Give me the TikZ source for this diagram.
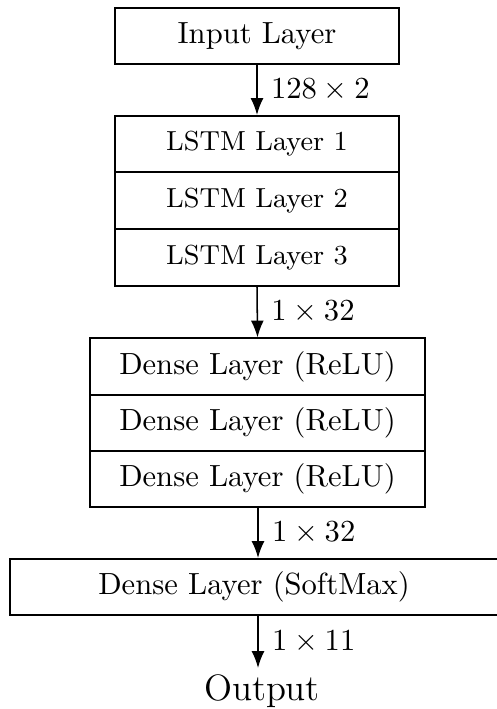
\documentclass[tikz,border=0pt]{standalone}
\usetikzlibrary{arrows.meta,calc}
\begin{document}
\begin{tikzpicture}[x=0.3268pt,y=-0.3268pt,
  layerbox/.style={draw, line width=0.5pt, inner sep=0pt, minimum width={#1*0.3268pt}, minimum height={56.5*0.3268pt}},
  flow/.style={-{Latex[length=5.5pt,width=4.2pt]}, line width=0.5pt},
  dimlabel/.style={right, xshift=1pt}]
\useasboundingbox (0,0) rectangle (496,709);
\node[layerbox=284] (in) at (257,36) {Input Layer};
\node[layerbox=284, font=\small] (l1) at (257,144) {LSTM Layer 1};
\node[layerbox=284, font=\small] (l2) at (257,200.5) {LSTM Layer 2};
\node[layerbox=284, font=\small] (l3) at (257,257.5) {LSTM Layer 3};
\node[layerbox=335] (d1) at (257.5,366.5) {Dense Layer (ReLU)};
\node[layerbox=335] (d2) at (257.5,423) {Dense Layer (ReLU)};
\node[layerbox=335] (d3) at (257.5,479) {Dense Layer (ReLU)};
\node[layerbox=488] (sm) at (254,587) {Dense Layer (SoftMax)};
\node[font=\large, inner sep=0pt] (out) at (262,691) {Output};
\coordinate (a4s) at ($(sm.south)+(4,0)$);
\coordinate (a4e) at (258,668);
\draw[flow] (in.south) -- node[dimlabel] {$128\times 2$} (l1.north);
\draw[flow] (l3.south) -- node[dimlabel] {$1\times 32$} (d1.north);
\draw[flow] ($(d3.south)+(0.5,0)$) -- node[dimlabel] {$1\times 32$} ($(sm.north)+(4,0)$);
\draw[flow] (a4s) -- node[dimlabel] {$1\times 11$} (a4e);
\end{tikzpicture}
\end{document}
